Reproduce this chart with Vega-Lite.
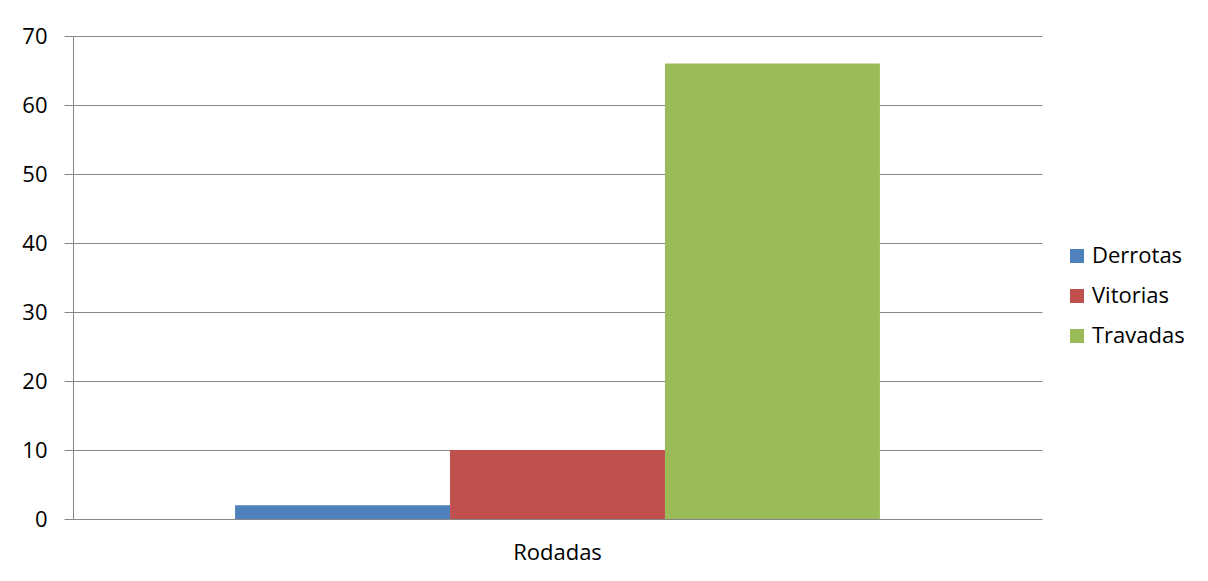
{
  "$schema": "https://vega.github.io/schema/vega-lite/v6.json",
  "width": 969,
  "height": 483,
  "autosize": {"type": "none"},
  "padding": {"left": 73, "top": 36, "right": 166, "bottom": 62},
  "background": "white",
  "data": {
    "values": [
      {"grupo": "Rodadas", "serie": "Derrotas", "valor": 2},
      {"grupo": "Rodadas", "serie": "Vitorias", "valor": 10},
      {"grupo": "Rodadas", "serie": "Travadas", "valor": 66}
    ]
  },
  "mark": {"type": "bar"},
  "encoding": {
    "x": {
      "field": "grupo",
      "type": "nominal",
      "scale": {"paddingInner": 0, "paddingOuter": 0},
      "axis": {
        "title": null,
        "ticks": false,
        "domain": false,
        "labelAngle": 0,
        "labelFont": "Open Sans",
        "labelFontSize": 22,
        "labelColor": "#000000",
        "labelPadding": 23
      }
    },
    "xOffset": {
      "field": "serie",
      "sort": ["Derrotas", "Vitorias", "Travadas"],
      "scale": {"paddingInner": 0, "paddingOuter": 0.754}
    },
    "y": {
      "field": "valor",
      "type": "quantitative",
      "scale": {"domain": [0, 70], "nice": false},
      "axis": {
        "title": null,
        "values": [0, 10, 20, 30, 40, 50, 60, 70],
        "tickSize": 9,
        "tickColor": "#868686",
        "domainColor": "#868686",
        "gridColor": "#868686",
        "labelFont": "Open Sans",
        "labelFontSize": 22,
        "labelColor": "#000000",
        "labelPadding": 17
      }
    },
    "color": {
      "field": "serie",
      "type": "nominal",
      "sort": ["Derrotas", "Vitorias", "Travadas"],
      "scale": {
        "domain": ["Derrotas", "Vitorias", "Travadas"],
        "range": ["#4F81BD", "#C0504D", "#9BBB59"]
      },
      "legend": {
        "title": null,
        "orient": "none",
        "legendX": 993,
        "legendY": 209,
        "symbolType": "square",
        "symbolSize": 196,
        "symbolStrokeWidth": 0,
        "labelFont": "Open Sans",
        "labelFontSize": 22,
        "labelColor": "#000000",
        "labelOffset": 4,
        "rowPadding": 18
      }
    }
  },
  "config": {
    "view": {"stroke": null}
  }
}
